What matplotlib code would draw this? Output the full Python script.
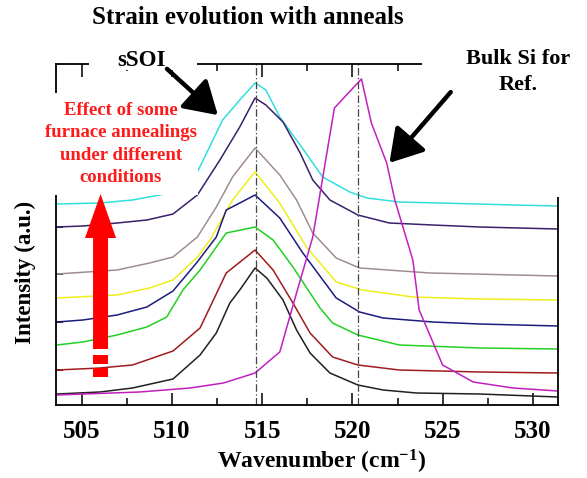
import matplotlib
matplotlib.use("Agg")
import matplotlib.pyplot as plt
from matplotlib.patches import Rectangle, FancyArrow, FancyArrowPatch
from matplotlib.ticker import MultipleLocator, NullFormatter

plt.rcParams['font.family'] = ['Liberation Serif', 'DejaVu Serif']
plt.rcParams['font.weight'] = 'bold'
plt.rcParams['mathtext.fontset'] = 'custom'
plt.rcParams['mathtext.rm'] = 'Liberation Serif:bold'
plt.rcParams['mathtext.default'] = 'rm'

# Raman spectra (wavenumber in cm-1, intensity in arbitrary units, offset per anneal)
cyan_w = [503.6, 506.0, 507.8, 509.6, 511.4, 512.8, 513.75, 514.6, 515.2, 515.97, 517.1, 518.35, 519.85, 520.8, 522.6, 527.0, 528.9, 531.4]
cyan_i = [201, 202, 205, 211, 233, 285, 305, 322, 315, 288, 260, 228, 213, 207, 203, 201, 200, 199]

purple_w = [503.6, 505.05, 506.95, 508.6, 510.05, 511.4, 512.65, 513.75, 514.6, 515.2, 516.15, 517.1, 517.8, 518.75, 520.3, 522.05, 524.45, 527.05, 531.4]
purple_i = [178, 179, 182, 185, 191, 210, 245, 278, 307, 300, 283, 252, 225, 205, 190, 182, 180, 178, 176]

grey_w = [503.6, 506.95, 508.75, 510.05, 511.4, 512.45, 513.35, 514.6, 515.97, 516.9, 517.8, 519.1, 520.4, 524.3, 531.4]
grey_i = [131, 135, 142, 148, 168, 198, 228, 257, 230, 205, 172, 147, 137, 132, 129]

yellow_w = [503.6, 506.95, 508.75, 510.05, 511.4, 512.1, 513.35, 514.6, 515.97, 517.45, 519.1, 520.55, 523.35, 527.05, 531.4]
yellow_i = [107, 110, 117, 125, 148, 165, 205, 233, 202, 158, 123, 115, 108, 106, 105]

navy_w = [503.6, 505.05, 506.95, 508.6, 510.05, 511.35, 512.45, 513.0, 513.75, 514.6, 515.97, 517.25, 519.1, 520.4, 521.7, 524.45, 527.05, 531.4]
navy_i = [83, 85, 90, 98, 114, 142, 168, 195, 202, 210, 187, 152, 107, 93, 87, 83, 81, 79]

green_w = [503.6, 505.05, 506.95, 508.6, 509.7, 510.6, 511.55, 513.0, 514.6, 515.6, 516.7, 518.2, 518.9, 520.3, 522.6, 527.05, 531.4]
green_i = [60, 63, 70, 78, 88, 115, 135, 172, 178, 165, 138, 97, 82, 70, 60, 57, 56]

red_w = [503.6, 506.0, 507.8, 510.05, 511.55, 513.0, 514.6, 515.6, 516.7, 517.65, 518.9, 520.3, 522.6, 527.05, 531.4]
red_i = [35, 37, 40, 54, 77, 132, 155, 135, 102, 72, 48, 40, 35, 33, 32]

black_w = [503.6, 506.0, 507.8, 510.05, 511.55, 512.45, 513.2, 513.75, 514.6, 515.25, 516.15, 516.9, 517.65, 518.75, 520.3, 521.7, 523.55, 527.05, 531.4]
black_i = [11, 13, 17, 26, 50, 72, 102, 115, 137, 127, 105, 75, 52, 32, 20, 15, 12, 11, 8]

bulk_w = [503.6, 508.2, 511.0, 512.85, 514.6, 515.97, 516.9, 517.8, 519.0, 520.5, 521.05, 521.9, 522.35, 523.35, 523.7, 525.0, 526.7, 528.9, 531.4]
bulk_i = [10, 13, 17, 22, 32, 53, 112, 168, 297, 326, 282, 242, 205, 145, 95, 40, 23, 17, 14]

spectra = [
    (cyan_w, cyan_i, '#33dede'),
    (purple_w, purple_i, '#3a1f6b'),
    (grey_w, grey_i, '#a08e8e'),
    (yellow_w, yellow_i, '#eeee1a'),
    (navy_w, navy_i, '#1c1c80'),
    (green_w, green_i, '#22d022'),
    (red_w, red_i, '#a01c1c'),
    (black_w, black_i, '#202020'),
    (bulk_w, bulk_i, '#c020c0'),
]

peak_sSOI = 514.65
peak_bulk = 520.3
x_ticks = [505, 510, 515, 520, 525, 530]

W, H = 587, 478
fig = plt.figure(figsize=(W / 100, H / 100), dpi=100)
ax = fig.add_axes([56 / W, 1 - 405 / H, 502 / W, 341 / H])

for w, i, c in spectra:
    ax.plot(w, i, color=c, lw=1.1, zorder=2)

for xv in (peak_sSOI, peak_bulk):
    ax.axvline(xv, color='#444444', lw=0.9, ls=(0, (6, 2, 1, 2)), zorder=2.2)

ax.set_xlim(503.56, 531.4)
ax.set_ylim(0, 341)

ax.set_xticks(x_ticks)
ax.xaxis.set_minor_locator(MultipleLocator(2.5))
ax.set_yticks([35, 83, 131, 178])
ax.yaxis.set_major_formatter(NullFormatter())
ax.tick_params(axis='x', which='major', direction='in', length=9, width=1.1,
               top=True, labelsize=18, pad=11)
ax.tick_params(axis='x', which='minor', direction='in', length=5, width=1.1, top=True)
ax.tick_params(axis='y', which='major', direction='in', length=5, width=1.1)
for lab in ax.get_xticklabels():
    lab.set_fontweight('bold')
for s in ax.spines.values():
    s.set_linewidth(1.3)

# white panels behind the annotations
def fig_rect(x0, y0, x1, y1):
    return Rectangle((x0 / W, 1 - y1 / H), (x1 - x0) / W, (y1 - y0) / H,
                     transform=fig.transFigure, facecolor='white', edgecolor='none',
                     clip_on=False, zorder=3)

for r in (fig_rect(89, 30, 197, 70), fig_rect(0, 93, 198, 195), fig_rect(422, 0, 587, 197)):
    ax.add_artist(r)

fig.text(248 / W, 1 - 18 / H, 'Strain evolution with anneals', ha='center', va='center',
         fontsize=18, fontweight='bold')
fig.text(322 / W, 1 - 462 / H, 'Wavenumber (cm$^{-1}$)', ha='center', va='center',
         fontsize=17, fontweight='bold')
fig.text(142 / W, 1 - 61 / H, 'sSOI', ha='center', va='center', fontsize=16.5,
         fontweight='bold', zorder=5)
fig.text(518 / W, 1 - 72 / H, 'Bulk Si for\nRef.', ha='center', va='center', fontsize=16,
         fontweight='bold', linespacing=1.4, zorder=5)
fig.text(121 / W, 1 - 144 / H, 'Effect of some\nfurnace annealings\nunder different\nconditions',
         ha='center', va='center', fontsize=13.5, fontweight='bold', color='#ff1a1a',
         linespacing=1.42, zorder=5)
fig.text(25 / W, 1 - 272 / H, 'Intensity (a.u.)', ha='center', va='center', rotation=90,
         fontsize=16.5, fontweight='bold')

# pointer arrows
ax.add_artist(FancyArrowPatch((509.6, 338), (512.65, 288), arrowstyle='-|>,head_length=0.9,head_width=0.55',
                              mutation_scale=22, color='black', lw=3.2, clip_on=False, zorder=6))
ax.add_artist(FancyArrowPatch((525.55, 315), (521.95, 240), arrowstyle='-|>,head_length=0.9,head_width=0.55',
                              mutation_scale=22, color='black', lw=3.2, clip_on=False, zorder=6))

# red trend arrow
ax.add_artist(FancyArrow(506.03, 56, 0, 155, width=0.83, head_width=1.72, head_length=44,
                         length_includes_head=True, color='#ff0000', lw=0, zorder=6))
ax.add_artist(Rectangle((505.61, 41), 0.83, 9, color='#ff0000', lw=0, zorder=6))
ax.add_artist(Rectangle((505.61, 28), 0.83, 9, color='#ff0000', lw=0, zorder=6))

fig.savefig('out.png', dpi=100)
